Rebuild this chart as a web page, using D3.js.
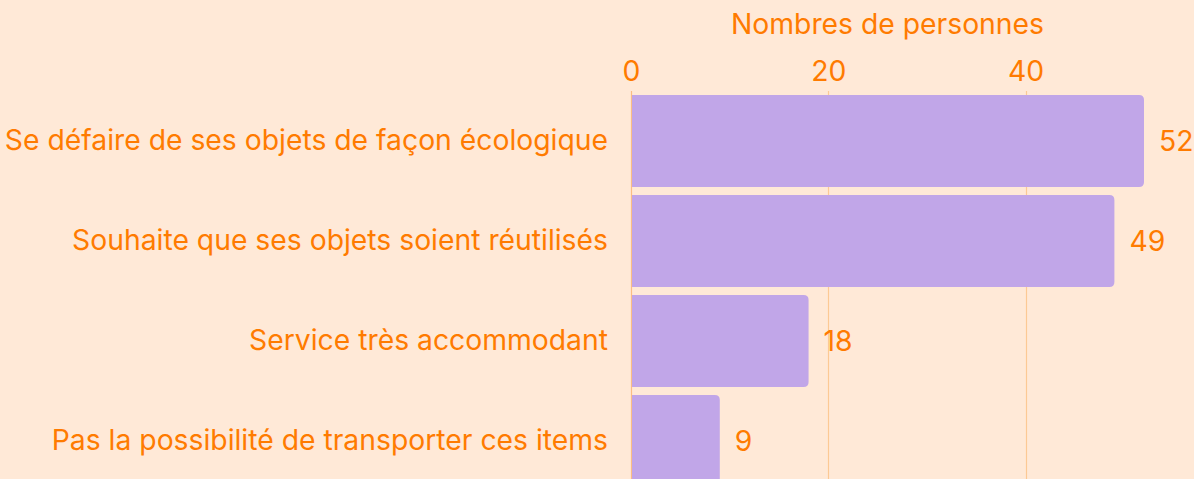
<!DOCTYPE html>
<html><head><meta charset="utf-8">
<script src="https://cdn.jsdelivr.net/npm/d3@7"></script>
<style>
html,body{margin:0;padding:0;background:#ffe9d7;overflow:hidden;}
svg{display:block;font-family:Inter, "Noto Sans", sans-serif;}
</style></head>
<body><svg id="c" width="1194" height="479"></svg>
<script>
const categories = [
  "Se défaire de ses objets de façon écologique",
  "Souhaite que ses objets soient réutilisés",
  "Service très accommodant",
  "Pas la possibilité de transporter ces items"
];
const values = [52, 49, 18, 9];
const tickValues = [0, 20, 40];
const axisTitle = "Nombres de personnes";

const orange = "#ff7b00";
const fs = 28.3;
const svg = d3.select("#c");
svg.append("rect").attr("width",1194).attr("height",479).attr("fill","#ffe9d7");

const x = d3.scaleLinear().domain([0, 52]).range([631, 1144]);
const y = d3.scaleBand().domain(categories).range([91, 491]).paddingInner(0.08).paddingOuter(0.04);

// grid
svg.append("g").selectAll("line").data(tickValues).join("line")
  .attr("x1", d=>Math.round(x(d))+0.5).attr("x2", d=>Math.round(x(d))+0.5)
  .attr("y1", 91).attr("y2", 479)
  .attr("stroke", d=> d===0 ? "#fbbd84" : "#fcc994").attr("stroke-width",1.2);

// bars with right rounded corners
const r = 5;
svg.append("g").selectAll("path").data(values).join("path")
  .attr("fill","#c1a6e8")
  .attr("d",(d,i)=>{
    const x0 = x(0)+1, x1 = x(d), y0 = y(categories[i]), h = y.bandwidth();
    return `M${x0},${y0}H${x1-r}Q${x1},${y0} ${x1},${y0+r}V${y0+h-r}Q${x1},${y0+h} ${x1-r},${y0+h}H${x0}Z`;
  });

// value labels
svg.append("g").selectAll("text").data(values).join("text")
  .attr("x", d=>x(d)+15).attr("y",(d,i)=>y(categories[i])+y.bandwidth()/2)
  .attr("dy","0.34em").attr("fill",orange).attr("font-size",fs).text(d=>d);

// category axis
const yAxis = d3.axisLeft(y).tickSize(0).tickPadding(23);
const gy = svg.append("g").attr("transform","translate(631,0)").call(yAxis);
gy.select(".domain").remove();
gy.selectAll("text").attr("fill",orange).attr("font-size",fs).attr("dy","0.31em")
  .attr("font-family","Inter, 'Noto Sans', sans-serif");

// x axis top
const xAxis = d3.axisTop(x).tickValues(tickValues).tickSize(0).tickPadding(10);
const gx = svg.append("g").attr("transform","translate(0,91)").call(xAxis);
gx.select(".domain").remove();
gx.selectAll("text").attr("fill",orange).attr("font-size",fs).attr("font-family","Inter, 'Noto Sans', sans-serif");

svg.append("text").attr("x",(x.range()[0]+x.range()[1])/2).attr("y",34)
  .attr("text-anchor","middle").attr("fill",orange).attr("font-size",fs).text(axisTitle);
</script></body></html>
